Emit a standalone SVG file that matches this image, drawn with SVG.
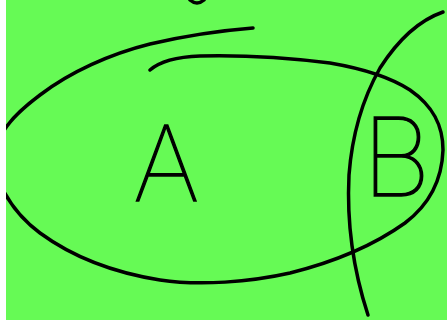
<svg xmlns="http://www.w3.org/2000/svg" width="447" height="320" viewBox="0 0 447 320">
<style>
.s{fill:none;stroke:#000;stroke-width:3.5;stroke-linecap:round;stroke-linejoin:round}
.t{font-family:Inter,"Liberation Sans",sans-serif;font-weight:100;fill:#000;stroke:#000;stroke-width:1.3}
</style>
<defs>
<clipPath id="clip"><rect x="6" y="0" width="441" height="320"/></clipPath>
</defs>
<rect x="0" y="0" width="447" height="320" fill="#fff"/>
<rect x="6" y="0" width="441" height="320" fill="#66fa55"/>
<g clip-path="url(#clip)">
<g id="setA">
<path class="s" d="M253,28 C215,31 180,37 150,44 C110,54 70,72 40,95 C20,110 8,122 2,134"/>
<path class="s" d="M2,188 C12,208 25,222 40,233 C70,255 110,272 160,280 C200,286 250,282 290,273 C330,263 370,248 405,223 C430,204 442,180 443,150 C443,125 433,106 410,90 C390,77 365,69 330,63 C290,58 240,55 200,56 C175,57 158,63 150,70"/>
</g>
<g id="setB">
<path class="s" d="M443,12 C420,20 398,40 380,68 C362,100 352,135 349,175 C347,215 350,260 368,315"/>
</g>
<g id="topmark">
<path class="s" d="M190,0 Q197,6 204,0"/>
</g>
</g>
<g id="labels">
<text class="t" x="133" y="201" font-size="104">A</text>
<text class="t" x="362" y="196" font-size="108">B</text>
</g>
</svg>
